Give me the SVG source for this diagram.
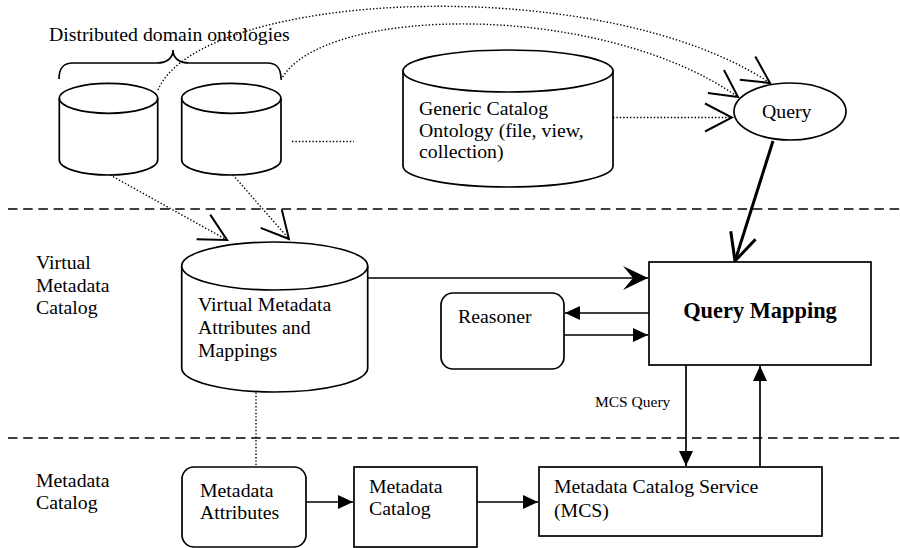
<svg xmlns="http://www.w3.org/2000/svg" width="900" height="548" viewBox="0 0 900 548">
<style>
text{font-family:"Liberation Serif","Times New Roman",serif;font-size:19.8px;fill:#000}
.b{font-weight:bold;font-size:22.4px}
.s{font-size:15.5px}
.shape{fill:#fff;stroke:#000;stroke-width:1.7}
.solid{fill:none;stroke:#000;stroke-width:1.7}
.dot{fill:none;stroke:#000;stroke-width:1.4;stroke-dasharray:1.4 2}
.dash{fill:none;stroke:#000;stroke-width:1.5;stroke-dasharray:9.5 5.7}
</style>
<defs>
<marker id="open" markerUnits="userSpaceOnUse" viewBox="-30 -16 32 32" markerWidth="32" markerHeight="32" refX="0" refY="0" orient="auto">
<path d="M-27,-14 L0,0 L-27,14" fill="none" stroke="#000" stroke-width="2"/>
</marker>
<marker id="openHeavy" markerUnits="userSpaceOnUse" viewBox="-30 -16 32 32" markerWidth="32" markerHeight="32" refX="0" refY="0" orient="auto">
<path d="M-27,-13 L0,0 L-27,13" fill="none" stroke="#000" stroke-width="3"/>
</marker>
<marker id="tri" markerUnits="userSpaceOnUse" viewBox="-16 -8 17 16" markerWidth="17" markerHeight="16" refX="0" refY="0" orient="auto">
<path d="M-15,-7 L0,0 L-15,7 Z" fill="#000"/>
</marker>
<marker id="barb" markerUnits="userSpaceOnUse" viewBox="-26 -13 27 26" markerWidth="27" markerHeight="26" refX="0" refY="0" orient="auto">
<path d="M0,0 L-25,-12 L-15,0 L-25,12 Z" fill="#000"/>
</marker>
</defs>
<rect width="900" height="548" fill="#fff"/>

<g id="separators">
<line class="dash" x1="8" y1="209" x2="900" y2="209"/>
<line class="dash" x1="8" y1="438" x2="900" y2="438"/>
</g>

<g id="labels">
<text x="49" y="40.7">Distributed domain ontologies</text>
<path class="solid" d="M59,79 C59,68 63,63 73,63 L157,63 C167,63 173,58 173,50 C173,58 179,63 189,63 L267,63 C277,63 281,68 281,79"/>
<text x="36" y="269">Virtual</text>
<text x="36" y="291.7">Metadata</text>
<text x="36" y="314">Catalog</text>
<text x="36" y="486.7">Metadata</text>
<text x="36" y="509">Catalog</text>
</g>

<g id="connectors">
<path class="dot" d="M158,90 C200,-10 600,-30 770,83" marker-end="url(#open)"/>
<path class="dot" d="M281,80 C320,5 600,0 738,97" marker-end="url(#open)"/>
<line class="dot" x1="613" y1="117.5" x2="732" y2="117.5" marker-end="url(#open)"/>
<line class="dot" x1="110" y1="175" x2="227" y2="240" marker-end="url(#open)"/>
<line class="dot" x1="233" y1="175" x2="289" y2="239" marker-end="url(#open)"/>
<line class="dot" x1="292" y1="141.5" x2="354" y2="141.5"/>
<line class="dot" x1="256" y1="389" x2="256" y2="465"/>
<line x1="773" y1="141" x2="735" y2="261" stroke="#000" stroke-width="3" marker-end="url(#openHeavy)"/>
<line class="solid" x1="368" y1="278" x2="648" y2="278" marker-end="url(#barb)"/>
<line class="solid" x1="649" y1="313" x2="565" y2="313" marker-end="url(#tri)"/>
<line class="solid" x1="564" y1="335" x2="648" y2="335" marker-end="url(#tri)"/>
<line class="solid" x1="686" y1="365" x2="686" y2="466" marker-end="url(#tri)"/>
<line class="solid" x1="760" y1="467" x2="760" y2="366" marker-end="url(#tri)"/>
<line class="solid" x1="306" y1="502" x2="353" y2="502" marker-end="url(#tri)"/>
<line class="solid" x1="477" y1="502" x2="538" y2="502" marker-end="url(#tri)"/>
<text class="s" x="595" y="406.7">MCS Query</text>
</g>

<g id="ontology1">
<path class="shape" d="M59.3,98.3 L59.3,160 A49.2,15 0 0 0 157.7,160 L157.7,98.3"/>
<ellipse class="shape" cx="108.5" cy="98.3" rx="49.2" ry="15"/>
</g>
<g id="ontology2">
<path class="shape" d="M181.7,98.3 L181.7,160 A49.6,15 0 0 0 281,160 L281,98.3"/>
<ellipse class="shape" cx="231.3" cy="98.3" rx="49.6" ry="15"/>
</g>

<g id="generic-catalog-ontology">
<path class="shape" d="M403,71 L403,166 A105,21 0 0 0 613,166 L613,71"/>
<ellipse class="shape" cx="508" cy="71" rx="105" ry="21"/>
<text x="419" y="115">Generic Catalog</text>
<text x="419" y="137">Ontology (file, view,</text>
<text x="419" y="158">collection)</text>
</g>

<g id="query">
<ellipse class="shape" cx="790" cy="111.5" rx="56" ry="28.5"/>
<text x="762" y="118.3">Query</text>
</g>

<g id="virtual-metadata">
<path class="shape" d="M181.7,266 L181.7,368 A93,24 0 0 0 367.7,368 L367.7,266"/>
<ellipse class="shape" cx="274.7" cy="266" rx="93" ry="24"/>
<text x="198" y="310.7">Virtual Metadata</text>
<text x="198" y="334">Attributes and</text>
<text x="198" y="356.7">Mappings</text>
</g>

<g id="reasoner">
<rect class="shape" x="441" y="293" width="123" height="76" rx="12"/>
<text x="458" y="322.7">Reasoner</text>
</g>

<g id="query-mapping">
<rect class="shape" x="649" y="262" width="222" height="103"/>
<text class="b" x="760" y="318.3" text-anchor="middle">Query Mapping</text>
</g>

<g id="metadata-attributes">
<rect class="shape" x="182" y="467" width="124" height="80" rx="12"/>
<text x="200" y="497.3">Metadata</text>
<text x="200" y="519.3">Attributes</text>
</g>

<g id="metadata-catalog">
<rect class="shape" x="354" y="467" width="123" height="80"/>
<text x="369" y="493.3">Metadata</text>
<text x="369" y="515">Catalog</text>
</g>

<g id="mcs">
<rect class="shape" x="539" y="467" width="283" height="69"/>
<text x="554" y="493.3">Metadata Catalog Service</text>
<text x="554" y="516.7">(MCS)</text>
</g>
</svg>
